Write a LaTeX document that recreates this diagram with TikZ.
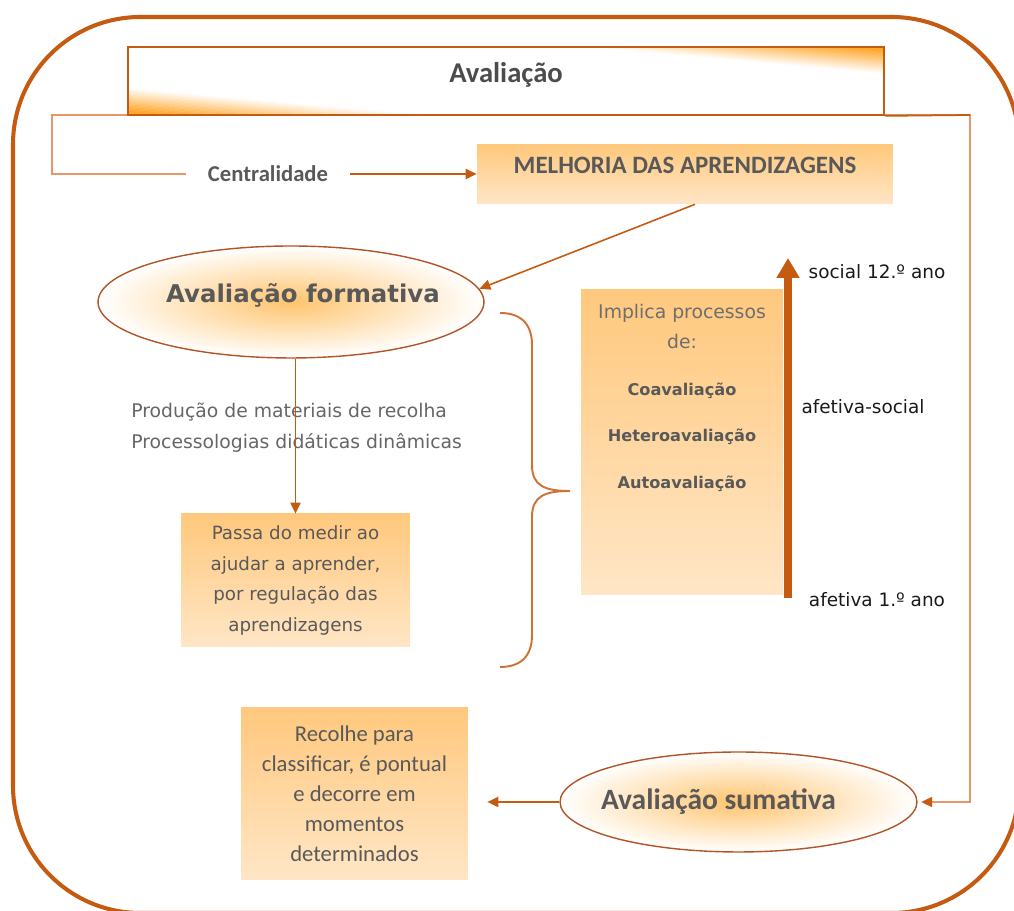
\documentclass[tikz,border=0pt]{standalone}
\usepackage{fontspec}
\setmainfont{Carlito}
\newfontfamily\verdfont{DejaVu Sans}
\usepackage{xcolor}
\usepackage{tikz}
\usetikzlibrary{arrows.meta,shapes.geometric,backgrounds}

\definecolor{laranjaesc}{RGB}{197,90,17}
\definecolor{laranjaclaro}{RGB}{232,150,105}
\definecolor{laranjaforte}{RGB}{255,165,40}
\definecolor{caixatopo}{RGB}{255,200,125}
\definecolor{caixabase}{RGB}{255,230,198}
\definecolor{centroelipse}{RGB}{255,196,110}
\definecolor{bordaelipse}{RGB}{178,84,38}
\definecolor{cinzatexto}{RGB}{89,89,89}

\begin{document}
\begin{tikzpicture}[x=0.02cm, y=0.02cm,
  caixa/.style={top color=caixatopo, bottom color=caixabase, draw=none,
                align=center, inner sep=0pt, text=cinzatexto},
  elipse/.style={ellipse, draw=bordaelipse, line width=0.8pt, inner color=centroelipse,
                 outer color=white, inner sep=0pt, text=cinzatexto},
  seta/.style={-{Triangle[length=0.22cm,width=0.2cm]}, line width=1.1pt, draw=laranjaesc},
  linha/.style={line width=1.1pt, draw=laranjaclaro},
  rotulo/.style={font=\verdfont\fontsize{10.5}{12}\selectfont, text=black!90}
]
  \useasboundingbox (0,0) rectangle (1014,911);

  % Nodes
  \node[draw=laranjaesc, line width=1pt, minimum width=15.12cm, minimum height=1.36cm,
        inner sep=0pt, text depth=0.35cm, text=black!70,
        font=\bfseries\fontsize{16.3}{19}\selectfont] (titulo) at (506,830) {Avaliação};
  \node[font=\bfseries\fontsize{12.9}{15}\selectfont, text=cinzatexto, inner xsep=0.44cm]
        (central) at (268,737) {Centralidade};
  \node[caixa, minimum width=8.32cm, minimum height=1.18cm, text depth=0.35cm,
        font=\bfseries\fontsize{14.2}{17}\selectfont] (melhoria) at (685,736.5)
        {MELHORIA DAS APRENDIZAGENS};
  \node[elipse, minimum width=7.72cm, minimum height=2.24cm, text depth=0.34cm,
        font=\verdfont\bfseries\fontsize{13.9}{16}\selectfont] (formativa) at (291,609)
        {\makebox[0pt]{\hspace*{0.48cm}Avaliação formativa}};
  \node[anchor=west, align=left, inner sep=0pt, text=black!60,
        font=\verdfont\fontsize{10.7}{17.6}\selectfont] (producao) at (131,483)
        {Produção de materiais de recolha\\Processologias didáticas dinâmicas};
  \node[caixa, minimum width=4.58cm, minimum height=2.66cm,
        font=\verdfont\fontsize{10.4}{17.6}\selectfont] (passa) at (295.5,330.5)
        {Passa do medir ao\\ajudar a aprender,\\por regulação das\\aprendizagens};
  \node[caixa, minimum width=4.04cm, minimum height=6.1cm, anchor=north] (implica) at (682,622)
        {\parbox[c][5.9cm][t]{3.9cm}{\centering\vspace*{0.2cm}%
         \verdfont\fontsize{10.7}{17}\selectfont\color{black!57}Implica processos\\de:\\[9.5pt]
         {\bfseries\fontsize{9.2}{17}\selectfont\color{cinzatexto}Coavaliação\\[9.5pt]
         Heteroavaliação\\[9.5pt]Autoavaliação}}};
  \node[caixa, minimum width=4.54cm, minimum height=3.46cm,
        font=\fontsize{12.9}{17}\selectfont] (recolhe) at (354.5,117.5)
        {Recolhe para\\classificar, é pontual\\e decorre em\\momentos\\determinados};
  \node[elipse, minimum width=7.14cm, minimum height=2cm,
        font=\bfseries\fontsize{16.8}{20}\selectfont] (sumativa) at (738.5,109)
        {\makebox[0pt]{\hspace*{-0.8cm}Avaliação sumativa}};
  \node[rotulo] (social) at (877,639) {social 12.º ano};
  \node[rotulo] (afetsocial) at (863,504) {afetiva-social};
  \node[rotulo] (afetiva) at (877,311) {afetiva 1.º ano};

  \coordinate (eixobase) at (788,313);
  \coordinate (eixotopo) at (788,653);
  \coordinate (chavetopo) at (500,598);
  \coordinate (chaveponta) at (570,420);
  \coordinate (chavebase) at (500,244);
  \coordinate (cantoesq) at (52,796);
  \coordinate (cantodir) at (970,796);

  % Paths
  \begin{scope}[on background layer]
    \draw[laranjaesc, line width=2.3pt, rounded corners=2.55cm] (13,894) rectangle (1019,-2);
    \draw[linha, -{Triangle[length=0.22cm,width=0.2cm,color=laranjaesc]}, shorten >=2pt]
      (central.west) -| (cantoesq) -- (cantodir) |- (sumativa.east);
    % diagonal glow of the title bar, strip by strip
    \begin{scope}
      \clip (titulo.south west) rectangle (titulo.north east);
      \foreach \k in {0,...,99}{
        \pgfmathsetmacro{\sa}{-1+0.02*\k}
        \pgfmathsetmacro{\sb}{\sa+0.025}
        \pgfmathtruncatemacro{\tom}{100*min(1,max(0,(abs(\sa+0.01)-0.6)/0.35))}
        \fill[laranjaforte!\tom!white] (14.6,{830+34*(2*\sa+1.3)}) -- (997.4,{830+34*(2*\sa-1.3)})
          -- (997.4,{830+34*(2*\sb-1.3)}) -- (14.6,{830+34*(2*\sb+1.3)}) -- cycle;
      }
    \end{scope}
  \end{scope}
  \draw[laranjaesc, line width=1pt] (titulo.south east) -- (cantodir);
  \draw[seta] (central.east) -- (central.east -| melhoria.west);
  \draw[seta, line width=0.9pt] ([xshift=0.2cm]melhoria.south) -- (formativa.4);
  \draw[seta] (formativa.south -| passa.north) -- (passa.north);
  \draw[seta, shorten >=0.38cm] (sumativa.west) -- (sumativa.west -| recolhe.east);
  \draw[laranjaesc, line width=4pt, -{Triangle[length=0.4cm,width=0.44cm]}] (eixobase) -- (eixotopo);
  \draw[laranjaesc!85, line width=1.1pt] (chavetopo) .. controls (520,598) and (532,588) .. (532,566)
    -- (532,446) .. controls (532,425) and (545,420) .. (chaveponta)
    .. controls (545,420) and (532,415) .. (532,394)
    -- (532,276) .. controls (532,254) and (520,244) .. (chavebase);
\end{tikzpicture}
\end{document}
